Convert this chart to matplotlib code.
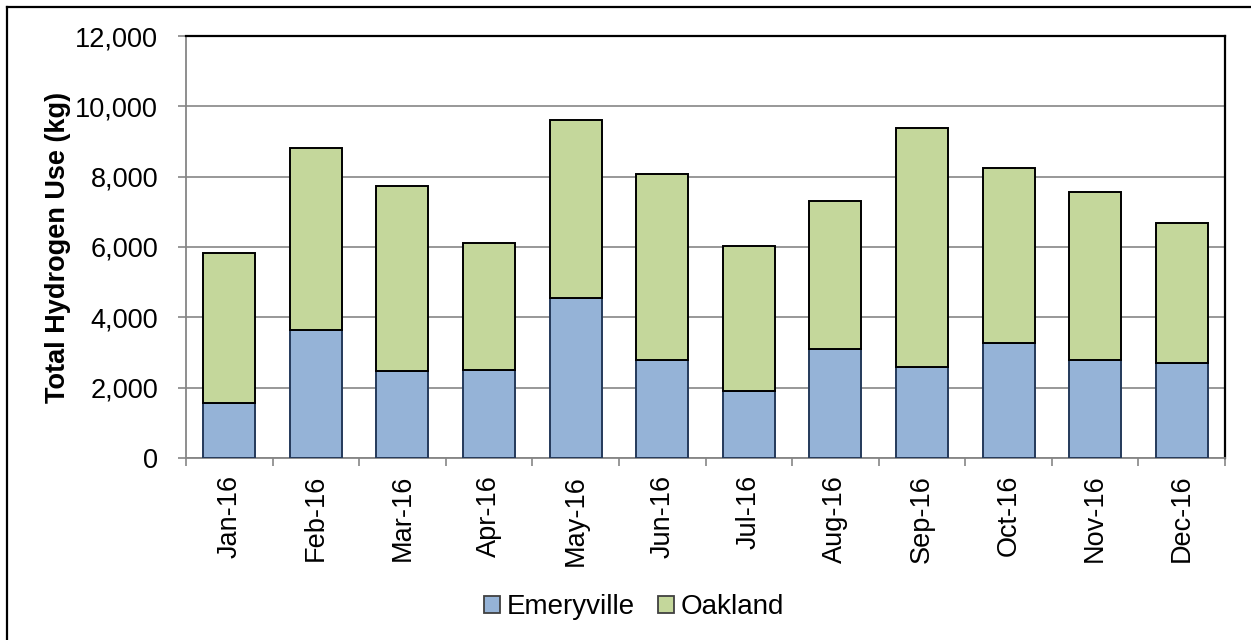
import matplotlib
matplotlib.use("Agg")
import matplotlib.pyplot as plt
import numpy as np
from matplotlib.lines import Line2D
from matplotlib.ticker import FuncFormatter, FixedLocator

plt.rcParams['font.family'] = ['Liberation Sans', 'DejaVu Sans']

months = ["Jan-16", "Feb-16", "Mar-16", "Apr-16", "May-16", "Jun-16",
          "Jul-16", "Aug-16", "Sep-16", "Oct-16", "Nov-16", "Dec-16"]
emeryville = [1575, 3640, 2485, 2500, 4550, 2800, 1915, 3100, 2600, 3270, 2780, 2700]
totals = [5830, 8815, 7735, 6125, 9620, 8075, 6030, 7305, 9385, 8245, 7565, 6675]
oakland = [t - e for t, e in zip(totals, emeryville)]

blue = "#95B3D7"
green = "#C4D79B"
grid_gray = "#868686"

fig = plt.figure(figsize=(12.51, 6.40), dpi=100)
ax = fig.add_axes([186 / 1251, 1 - 458 / 640, (1225 - 186) / 1251, (458 - 36) / 640])

x = np.arange(len(months))
ax.bar(x, emeryville, width=0.6, color=blue, edgecolor="#24395A",
       linewidth=1.4, label="Emeryville", zorder=3)
ax.bar(x, oakland, bottom=emeryville, width=0.6, color=green, edgecolor="black",
       linewidth=1.4, label="Oakland", zorder=3)

ax.set_xlim(-0.5, len(months) - 0.5)
ax.set_ylim(0, 12000)
ax.set_yticks(np.arange(0, 12001, 2000))
ax.yaxis.set_major_formatter(FuncFormatter(lambda v, p: f"{int(v):,}"))
ax.grid(axis="y", color=grid_gray, linewidth=1.2, zorder=0)
ax.set_axisbelow(True)

# category labels at bar centres, tick marks at category boundaries
ax.set_xticks(x)
ax.set_xticklabels(months, rotation=90, fontsize=19.5)
ax.xaxis.set_minor_locator(FixedLocator(np.arange(-0.5, len(months), 1.0)))
ax.tick_params(axis="x", which="major", length=0, pad=12)
ax.tick_params(axis="x", which="minor", length=6, width=1.2, color=grid_gray)
ax.tick_params(axis="y", length=6, width=1.2, color=grid_gray, labelsize=19.5, pad=14)

for side in ("left", "bottom"):
    ax.spines[side].set_color(grid_gray)
    ax.spines[side].set_linewidth(1.3)
for side in ("top", "right"):
    ax.spines[side].set_color("black")
    ax.spines[side].set_linewidth(1.6)

ax.set_ylabel("Total Hydrogen Use (kg)", fontsize=19.5, fontweight="bold", labelpad=3)

leg = fig.legend(loc="center", bbox_to_anchor=(0.507, 1 - 607 / 640), ncol=2,
                 frameon=False, fontsize=20, handlelength=0.55, handleheight=0.55,
                 handletextpad=0.25, columnspacing=0.85)
for h in leg.legend_handles:
    h.set_edgecolor("#404040")
    h.set_linewidth(1.3)

# chart frame
fig.add_artist(Line2D([7 / 1251, 1.0], [1 - 7 / 640, 1 - 7 / 640],
                      transform=fig.transFigure, color="black", linewidth=1.6))
fig.add_artist(Line2D([7 / 1251, 7 / 1251], [0.0, 1 - 7 / 640],
                      transform=fig.transFigure, color="black", linewidth=1.6))

fig.savefig("out.png", dpi=100)
